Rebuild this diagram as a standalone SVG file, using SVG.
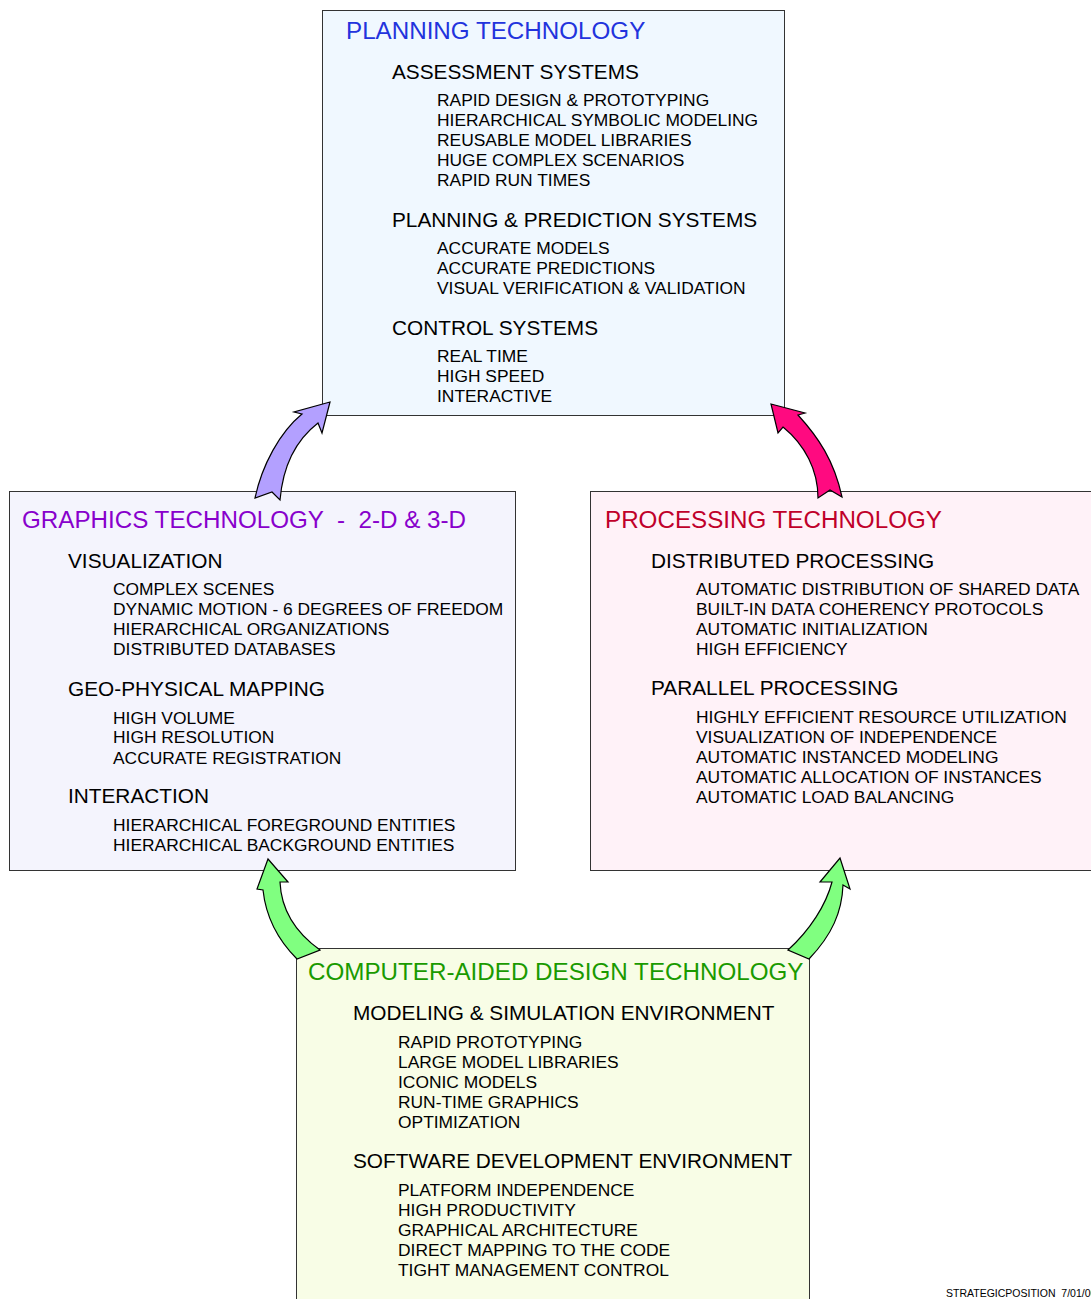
<svg xmlns="http://www.w3.org/2000/svg" width="1091" height="1299" viewBox="0 0 1091 1299">
<style>
text{font-family:"Liberation Sans",Arial,sans-serif;fill:#000}
.box{stroke:#333;stroke-width:1}
.t{font-size:24.2px}
.h{font-size:20.8px}
.i{font-size:17.4px}
.arr{stroke:#000;stroke-width:1.2;stroke-linejoin:miter}
</style>
<rect width="1091" height="1299" fill="#fff"/>
<g id="planning">
<rect class="box" x="322.5" y="10.5" width="462" height="405" fill="#f0f8ff"/>
<text class="t" x="346" y="39" style="fill:#2233dd">PLANNING TECHNOLOGY</text>
<text class="h" x="392" y="79">ASSESSMENT SYSTEMS</text>
<text class="i" x="437" y="106">RAPID DESIGN &amp; PROTOTYPING</text>
<text class="i" x="437" y="126">HIERARCHICAL SYMBOLIC MODELING</text>
<text class="i" x="437" y="146">REUSABLE MODEL LIBRARIES</text>
<text class="i" x="437" y="166">HUGE COMPLEX SCENARIOS</text>
<text class="i" x="437" y="186">RAPID RUN TIMES</text>
<text class="h" x="392" y="227">PLANNING &amp; PREDICTION SYSTEMS</text>
<text class="i" x="437" y="254">ACCURATE MODELS</text>
<text class="i" x="437" y="274">ACCURATE PREDICTIONS</text>
<text class="i" x="437" y="294">VISUAL VERIFICATION &amp; VALIDATION</text>
<text class="h" x="392" y="335">CONTROL SYSTEMS</text>
<text class="i" x="437" y="362">REAL TIME</text>
<text class="i" x="437" y="382">HIGH SPEED</text>
<text class="i" x="437" y="402">INTERACTIVE</text>
</g>
<g id="graphics">
<rect class="box" x="9.5" y="491.5" width="506" height="379" fill="#f4f4fd"/>
<text class="t" x="22" y="528" style="fill:#8800cc" xml:space="preserve">GRAPHICS TECHNOLOGY  -  2-D &amp; 3-D</text>
<text class="h" x="68" y="568">VISUALIZATION</text>
<text class="i" x="113" y="595">COMPLEX SCENES</text>
<text class="i" x="113" y="615">DYNAMIC MOTION - 6 DEGREES OF FREEDOM</text>
<text class="i" x="113" y="635">HIERARCHICAL ORGANIZATIONS</text>
<text class="i" x="113" y="655">DISTRIBUTED DATABASES</text>
<text class="h" x="68" y="696">GEO-PHYSICAL MAPPING</text>
<text class="i" x="113" y="724">HIGH VOLUME</text>
<text class="i" x="113" y="743">HIGH RESOLUTION</text>
<text class="i" x="113" y="764">ACCURATE REGISTRATION</text>
<text class="h" x="68" y="803">INTERACTION</text>
<text class="i" x="113" y="831">HIERARCHICAL FOREGROUND ENTITIES</text>
<text class="i" x="113" y="851">HIERARCHICAL BACKGROUND ENTITIES</text>
</g>
<g id="processing">
<rect class="box" x="590.5" y="491.5" width="510" height="379" fill="#fff2f8"/>
<text class="t" x="605" y="528" style="fill:#c0002a">PROCESSING TECHNOLOGY</text>
<text class="h" x="651" y="568">DISTRIBUTED PROCESSING</text>
<text class="i" x="696" y="595">AUTOMATIC DISTRIBUTION OF SHARED DATA</text>
<text class="i" x="696" y="615">BUILT-IN DATA COHERENCY PROTOCOLS</text>
<text class="i" x="696" y="635">AUTOMATIC INITIALIZATION</text>
<text class="i" x="696" y="655">HIGH EFFICIENCY</text>
<text class="h" x="651" y="695">PARALLEL PROCESSING</text>
<text class="i" x="696" y="723">HIGHLY EFFICIENT RESOURCE UTILIZATION</text>
<text class="i" x="696" y="743">VISUALIZATION OF INDEPENDENCE</text>
<text class="i" x="696" y="763">AUTOMATIC INSTANCED MODELING</text>
<text class="i" x="696" y="783">AUTOMATIC ALLOCATION OF INSTANCES</text>
<text class="i" x="696" y="803">AUTOMATIC LOAD BALANCING</text>
</g>
<g id="cad">
<rect class="box" x="296.5" y="948.5" width="513" height="360" fill="#f8fde6"/>
<text class="t" x="308" y="980" style="fill:#1a9a00">COMPUTER-AIDED DESIGN TECHNOLOGY</text>
<text class="h" x="353" y="1020">MODELING &amp; SIMULATION ENVIRONMENT</text>
<text class="i" x="398" y="1048">RAPID PROTOTYPING</text>
<text class="i" x="398" y="1068">LARGE MODEL LIBRARIES</text>
<text class="i" x="398" y="1088">ICONIC MODELS</text>
<text class="i" x="398" y="1108">RUN-TIME GRAPHICS</text>
<text class="i" x="398" y="1128">OPTIMIZATION</text>
<text class="h" x="353" y="1168">SOFTWARE DEVELOPMENT ENVIRONMENT</text>
<text class="i" x="398" y="1196">PLATFORM INDEPENDENCE</text>
<text class="i" x="398" y="1216">HIGH PRODUCTIVITY</text>
<text class="i" x="398" y="1236">GRAPHICAL ARCHITECTURE</text>
<text class="i" x="398" y="1256">DIRECT MAPPING TO THE CODE</text>
<text class="i" x="398" y="1276">TIGHT MANAGEMENT CONTROL</text>
</g>
<g id="connectors">
<path class="arr" fill="#b3a0ff" d="M330,402 L294,412 L302,414 C280,432 262,465 255,498 L272,492 L280,500 C283,465 296,440 318,423 L322,433 Z"/>
<path class="arr" fill="#ff0a80" d="M771,404 L805,413 L798,415 C818,437 834,460 842,497 L830,490 L818,498 C818,470 805,445 783,427 L778,433 Z"/>
<path class="arr" fill="#80ff80" d="M268,859 L288,882 L280,882 C281,905 292,930 320,950 L297,959 C278,940 266,918 263,890 L257,889 Z"/>
<path class="arr" fill="#80ff80" d="M840,858 L850,889 L843,885 C842,912 832,935 809,959 L788,950 C810,930 826,905 832,882 L820,882 Z"/>
</g>
<text x="946" y="1297" style="font-size:10.5px" xml:space="preserve">STRATEGICPOSITION  7/01/00</text>
</svg>
